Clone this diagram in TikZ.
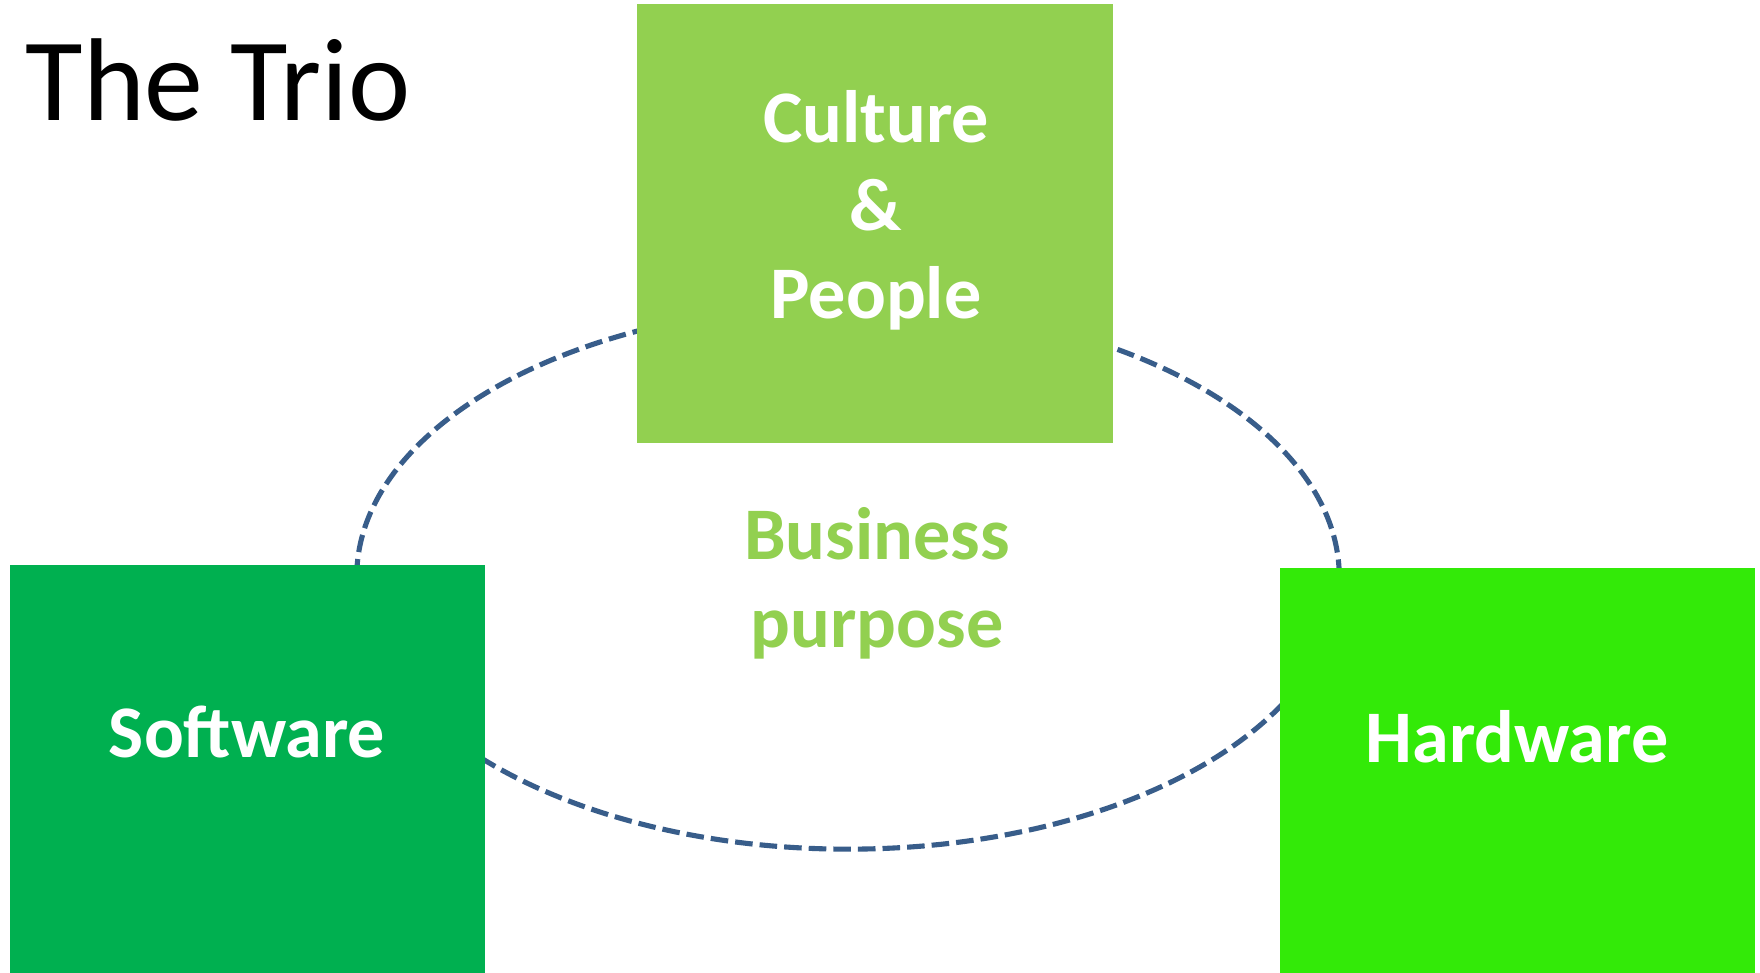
\documentclass[tikz,border=0pt]{standalone}
\usepackage{fontspec}
\setmainfont{Carlito}

\definecolor{culturegreen}{HTML}{92D050}
\definecolor{softgreen}{HTML}{00B050}
\definecolor{hardgreen}{HTML}{33EA08}
\definecolor{ringblue}{HTML}{385D8A}

\tikzset{block/.style = {shape = rectangle,
                         draw = none,
                         inner sep = 0pt,
                         anchor = north west},
         blocktext/.style = {text = white,
                             font = \fontsize{21.1}{25}\selectfont\bfseries,
                             align = center,
                             inner sep = 0pt},
         ring/.style = {draw = ringblue,
                        line width = 1.45pt,
                        dash pattern = on 5pt off 2pt}}

\begin{document}
\begin{tikzpicture}[x=0.01cm, y=-0.01cm]
		\useasboundingbox (0,0) rectangle (1760,973);
		\fill[white] (0,0) rectangle (1760,973);
		\draw[ring] (848,577) ellipse [x radius=4.91cm, y radius=2.72cm];
		\node[block, fill = culturegreen, minimum width = 4.76cm, minimum height = 4.39cm] (culture) at (636,3) {};
		\node[block, fill = softgreen, minimum width = 4.75cm, minimum height = 4.09cm] (software) at (9,564) {};
		\node[block, fill = hardgreen, minimum width = 4.75cm, minimum height = 4.06cm] (hardware) at (1279,567) {};
		\node[font = \fontsize{33.5}{40}\selectfont, anchor = base west, inner sep = 0pt] (title) at (25,121) {The Trio};
		\node[blocktext] (culturetext) at (876,210) {Culture\\\&\\People};
		\node[blocktext, anchor = base] (softtext) at (247,757) {Software};
		\node[blocktext, anchor = base] (hardtext) at (1517,762) {Hardware};
		\node[blocktext, text = culturegreen] (purpose) at (877,583) {Business\\purpose};
	\end{tikzpicture}
\end{document}
